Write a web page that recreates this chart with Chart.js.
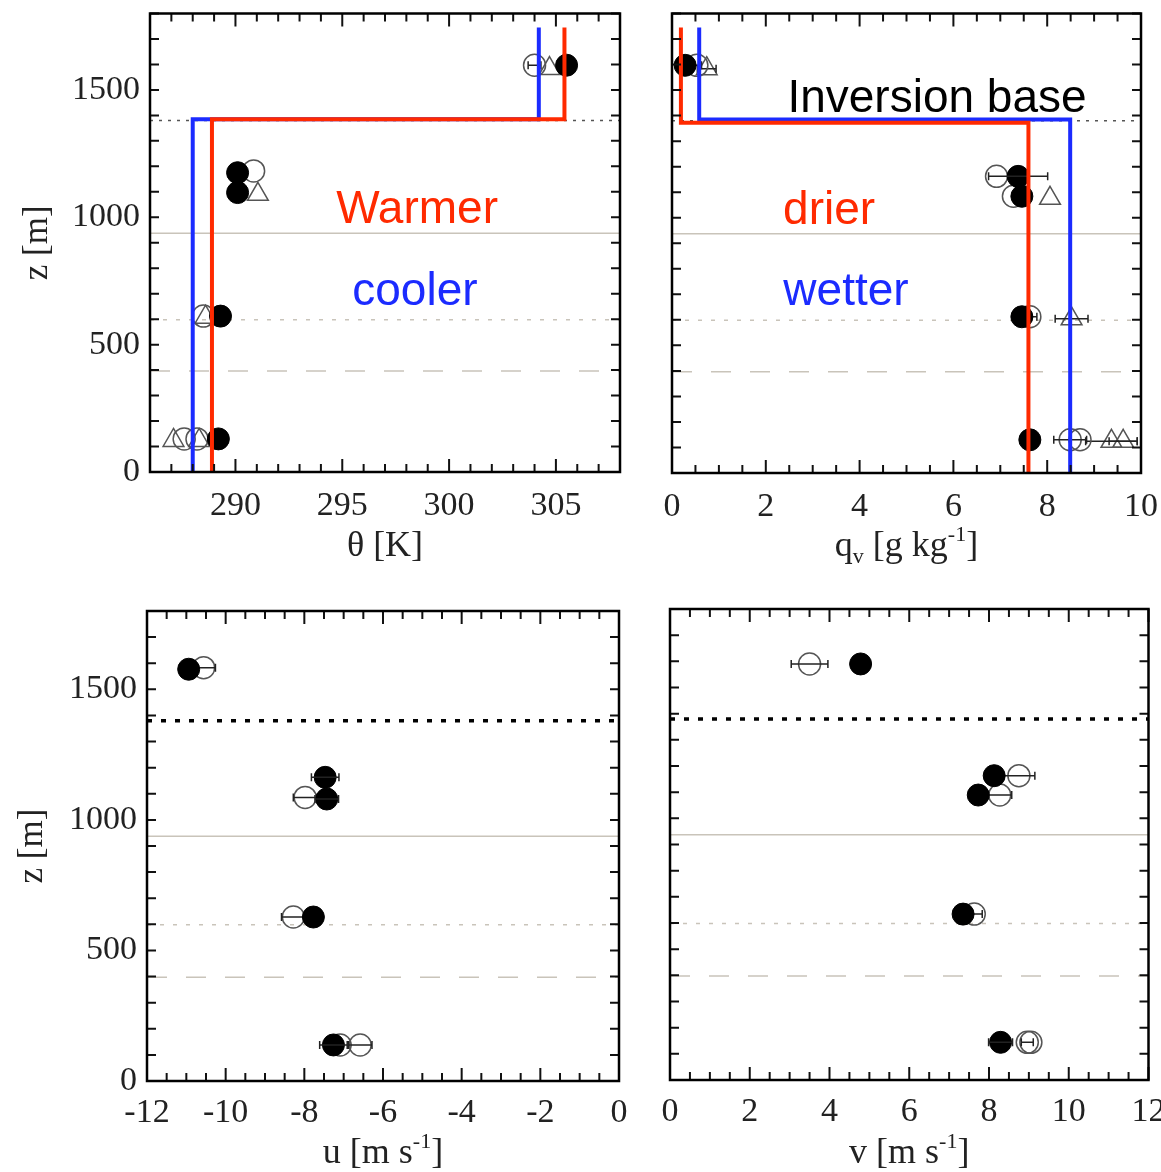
<!DOCTYPE html>
<html><head><meta charset="utf-8">
<script src="https://cdn.jsdelivr.net/npm/chart.js@4.4.1/dist/chart.umd.min.js"></script>
<style>
html,body{margin:0;padding:0;background:#fff;width:1161px;height:1172px;overflow:hidden}
canvas{position:absolute;display:block}
</style></head><body>
<canvas id="cTL" width="640" height="590" style="left:0;top:0"></canvas>
<canvas id="cTR" width="521" height="590" style="left:640px;top:0"></canvas>
<canvas id="cBL" width="640" height="582" style="left:0;top:590px"></canvas>
<canvas id="cBR" width="521" height="582" style="left:640px;top:590px"></canvas>
<script>
// ---------- reference heights (m) ----------
const zInversion = 1380;
const zCloudLine = 937;
const zDottedLine = 598;
const zDashedLine = 397;
const zProfileTop = 1745;
const zRange = [0, 1800];

// ---------- theta panel ----------
const thetaRange = [286, 308];
const thetaFilledZ = [130, 612, 1097, 1175, 1597];
const thetaFilled  = [289.2, 289.3, 290.1, 290.1, 305.5];
const thetaOpenZ   = [130, 130, 612, 1182, 1597];
const thetaOpen    = [287.6, 288.2, 288.5, 290.85, 304.0];
const thetaOpenErr = [0, 0, 0, 0, 0.3];
const thetaTriZ    = [124, 124, 608, 1090, 1584];
const thetaTri     = [287.1, 288.3, 288.6, 291.05, 304.7];
const thetaWarmer  = {bl: 288.9, ft: 305.4, zi: 1385};
const thetaCooler  = {bl: 288.0, ft: 304.2, zi: 1385};

// ---------- qv panel ----------
const qRange = [0, 10];
const qFilledZ   = [130, 612, 1084, 1162, 1597];
const qFilled    = [7.63, 7.46, 7.46, 7.38, 0.28];
const qFilledErr = [0, 0, 0, 0.63, 0];
const qOpenZ     = [130, 130, 612, 1084, 1162, 1597];
const qOpen      = [8.49, 8.7, 7.63, 7.28, 6.92, 0.53];
const qOpenErr   = [0.35, 0, 0.15, 0, 0, 0.1];
const qTriZ      = [124, 124, 604, 1076, 1584];
const qTri       = [9.37, 9.62, 8.52, 8.06, 0.74];
const qTriErr    = [0.55, 0.3, 0.35, 0, 0.2];
const qDrier     = {bl: 7.6, ft: 0.19, zi: 1372};
const qWetter    = {bl: 8.49, ft: 0.58, zi: 1385};

// ---------- u panel ----------
const uRange = [-12, 0];
const uFilledZ   = [138, 628, 1080, 1163, 1577];
const uFilled    = [-7.26, -7.77, -7.43, -7.47, -10.94];
const uFilledErr = [0.35, 0, 0.3, 0.35, 0];
const uOpenZ     = [138, 138, 628, 1086, 1583];
const uOpen      = [-7.09, -6.58, -8.28, -7.98, -10.56];
const uOpenErr   = [0, 0.3, 0.3, 0.3, 0.3];

// ---------- v panel ----------
const vRange = [0, 12];
const vFilledZ   = [144, 634, 1089, 1163, 1590];
const vFilled    = [8.29, 7.35, 7.73, 8.13, 4.78];
const vFilledErr = [0.3, 0, 0, 0, 0];
const vOpenZ     = [144, 144, 634, 1089, 1163, 1590];
const vOpen      = [8.96, 9.05, 7.63, 8.27, 8.75, 3.5];
const vOpenErr   = [0.15, 0, 0.2, 0.3, 0.4, 0.46];

// ---------- tick settings ----------
const zTickStep = 100, zMajor = 500;
const thetaTickStep = 1, thetaMajor = 5;
const qTickStep = 0.5, qMajor = 2;
const uTickStep = 0.5, uMajor = 2;
const vTickStep = 0.5, vMajor = 2;

// ---------- labels ----------
const thetaTitle = [{t:'θ [K]'}];
const qTitle = [{t:'q'},{t:'v',s:'sub'},{t:' [g kg'},{t:'-1',s:'sup'},{t:']'}];
const uTitle = [{t:'u [m s'},{t:'-1',s:'sup'},{t:']'}];
const vTitle = [{t:'v [m s'},{t:'-1',s:'sup'},{t:']'}];
const zTitle = [{t:'z [m]'}];

const RED = '#ff2a00', BLUE = '#1b2bff';
const thetaNotes = [{t:'Warmer', x:298.5, z:1027, c:RED}, {t:'cooler', x:298.4, z:706, c:BLUE}];
const qNotes = [{t:'Inversion base', x:5.65, z:1463, c:'#000'}, {t:'drier', x:3.35, z:1027, c:RED}, {t:'wetter', x:3.71, z:706, c:BLUE}];

// ================================================================
const SERIF = "'Liberation Serif','Times New Roman',serif";
const SANS = "'Liberation Sans',Arial,sans-serif";
const GREYLINE = '#c9c4ba';

function pts(xs, zs){ return xs.map((x,i)=>({x:x, y:zs[i]})); }
function stepPts(p){ return [{x:p.bl,y:zRange[0]},{x:p.bl,y:p.zi},{x:p.ft,y:p.zi},{x:p.ft,y:zProfileTop}]; }
function hline(z, r){ return [{x:r[0],y:z},{x:r[1],y:z}]; }
function lineDS(data, color, width, dash, order){
  return {data, showLine:true, borderColor:color, borderWidth:width, borderDash:dash||[], pointRadius:0, pointHoverRadius:0, fill:false, order, borderCapStyle:'butt'};
}
function markDS(data, kind, errX, order){
  const filled = kind==='filled';
  return {data, showLine:false, errX, order,
    pointStyle: kind==='tri' ? 'triangle' : 'circle',
    pointRadius: kind==='tri' ? 12 : 11,
    pointHoverRadius: kind==='tri' ? 12 : 11,
    backgroundColor: filled ? '#000' : 'rgba(0,0,0,0)',
    borderColor: filled ? '#000' : '#555',
    pointBorderWidth: filled ? 1 : 1.5, borderWidth: filled?1:1.5};
}
function refLines(r, top){
  return [
    lineDS(hline(zInversion, r), top ? '#555' : '#000', top ? 1.5 : 3.5, top ? [3,6] : [5,9], 20),
    lineDS(hline(zCloudLine, r), GREYLINE, 1.5, [], 21),
    lineDS(hline(zDottedLine, r), GREYLINE, 1.5, [4,9], 22),
    lineDS(hline(zDashedLine, r), GREYLINE, 1.5, [20,19], 23)
  ];
}
function tickVals(r, step){ const a=[]; const n=Math.round((r[1]-r[0])/step); for(let i=0;i<=n;i++) a.push(+(r[0]+i*step).toFixed(6)); return a; }
function isMajor(v, m){ return Math.abs(v/m - Math.round(v/m)) < 1e-6; }

function drawRich(ctx, segs, x, y, size, rotate){
  const base = size+'px '+SERIF, small = Math.round(size*0.6)+'px '+SERIF;
  let w = 0;
  segs.forEach(s=>{ ctx.font = s.s ? small : base; s.w = ctx.measureText(s.t).width; w += s.w; });
  ctx.save(); ctx.translate(x,y); if(rotate) ctx.rotate(-Math.PI/2);
  ctx.textAlign='left'; ctx.textBaseline='alphabetic'; ctx.fillStyle='#222';
  let cx = -w/2;
  segs.forEach(s=>{ ctx.font = s.s ? small : base; const dy = s.s==='sub' ? size*0.2 : (s.s==='sup' ? -size*0.4 : 0); ctx.fillText(s.t, cx, size*0.3+dy); cx += s.w; });
  ctx.restore();
}

const panelPlugin = {
  id: 'panel',
  afterDatasetDraw(chart, args){
    const ds = chart.data.datasets[args.index];
    if(!ds.errX) return;
    const xs = chart.scales.x, ctx = chart.ctx, meta = args.meta;
    ctx.save(); ctx.strokeStyle = '#222'; ctx.lineWidth = 1.5;
    ds.errX.forEach((e,i)=>{
      if(!e) return;
      const d = ds.data[i], py = meta.data[i].y;
      const x0 = xs.getPixelForValue(d.x - e), x1 = xs.getPixelForValue(d.x + e);
      ctx.beginPath(); ctx.moveTo(x0,py); ctx.lineTo(x1,py);
      ctx.moveTo(x0,py-4); ctx.lineTo(x0,py+4); ctx.moveTo(x1,py-4); ctx.lineTo(x1,py+4);
      ctx.stroke();
    });
    ctx.restore();
  },
  afterDraw(chart){
    const o = chart.options.plugins.panel, ctx = chart.ctx, a = chart.chartArea;
    const xs = chart.scales.x, ys = chart.scales.y;
    ctx.save();
    (o.notes||[]).forEach(n=>{
      ctx.font = '46px '+SANS; ctx.fillStyle = n.c; ctx.textAlign='center'; ctx.textBaseline='middle';
      ctx.fillText(n.t, xs.getPixelForValue(n.x), ys.getPixelForValue(n.z));
    });
    ctx.strokeStyle = '#111'; ctx.lineWidth = 2;
    ctx.beginPath();
    xs.ticks.forEach(t=>{
      const p = xs.getPixelForValue(t.value); const L = isMajor(t.value, o.xMajor) ? 13 : 8;
      ctx.moveTo(p, a.bottom); ctx.lineTo(p, a.bottom-L);
      ctx.moveTo(p, a.top); ctx.lineTo(p, a.top+L);
    });
    ys.ticks.forEach(t=>{
      const p = ys.getPixelForValue(t.value); const L = 9;
      ctx.moveTo(a.left, p); ctx.lineTo(a.left+L, p);
      ctx.moveTo(a.right, p); ctx.lineTo(a.right-L, p);
    });
    ctx.stroke();
    ctx.lineWidth = 2.5; ctx.strokeStyle = '#000';
    ctx.strokeRect(a.left, a.top, a.right-a.left, a.bottom-a.top);
    drawRich(ctx, o.xTitle, (a.left+a.right)/2, o.xTitleY, 36, false);
    if(o.yTitle) drawRich(ctx, o.yTitle, o.yTitleX, (a.top+a.bottom)/2, 35, true);
    ctx.restore();
  }
};

function makeChart(id, c){
  const tickFont = {family: SERIF, size: 34};
  return new Chart(document.getElementById(id), {
    type: 'scatter',
    data: {datasets: c.datasets},
    plugins: [panelPlugin],
    options: {
      responsive:false, animation:false, devicePixelRatio:1, events:[],
      layout: {padding: {top:c.padTop, right:c.padRight, left:0, bottom:0}},
      plugins: {legend:{display:false}, tooltip:{enabled:false},
        panel: {notes:c.notes, xMajor:c.xMajor, xTitle:c.xTitle, xTitleY:c.xTitleY, yTitle:c.yTitle, yTitleX:c.yTitleX}},
      scales: {
        x: {type:'linear', min:c.xRange[0], max:c.xRange[1],
            grid:{display:false, drawTicks:false}, border:{display:false},
            afterBuildTicks: s=>{ s.ticks = tickVals(c.xRange, c.xStep).map(v=>({value:v})); },
            afterFit: s=>{ s.height = c.xAxisH; s.paddingLeft = 0; s.paddingRight = 0; },
            ticks:{autoSkip:false, maxRotation:0, minRotation:0, padding:c.xPad, color:'#222', font:tickFont,
              callback: v => isMajor(v, c.xMajor) ? String(Math.round(v)) : ''}},
        y: {type:'linear', min:zRange[0], max:zRange[1],
            grid:{display:false, drawTicks:false}, border:{display:false},
            afterBuildTicks: s=>{ s.ticks = tickVals(zRange, zTickStep).map(v=>({value:v})); },
            afterFit: s=>{ s.width = c.yAxisW; s.paddingTop = 0; s.paddingBottom = 0; },
            ticks:{autoSkip:false, padding:10, color:'#222', font:tickFont,
              callback: v => (c.yLabels && isMajor(v, zMajor)) ? String(v) : ''}}
      }
    }
  });
}

makeChart('cTL', {
  padTop:9, padRight:20, yAxisW:150, xAxisH:118, xPad:14, yLabels:true,
  xRange:thetaRange, xStep:thetaTickStep, xMajor:thetaMajor,
  xTitle:thetaTitle, xTitleY:545, yTitle:zTitle, yTitleX:36, notes:thetaNotes,
  datasets: [
    lineDS(stepPts(thetaWarmer), RED, 4, [], 0),
    lineDS(stepPts(thetaCooler), BLUE, 4, [], 1),
    markDS(pts(thetaFilled, thetaFilledZ), 'filled', null, 2),
    markDS(pts(thetaOpen, thetaOpenZ), 'open', thetaOpenErr, 3),
    markDS(pts(thetaTri, thetaTriZ), 'tri', null, 4),
    ...refLines(thetaRange, true)
  ]
});

makeChart('cTR', {
  padTop:9, padRight:20, yAxisW:32, xAxisH:117, xPad:14, yLabels:false,
  xRange:qRange, xStep:qTickStep, xMajor:qMajor,
  xTitle:qTitle, xTitleY:545, yTitle:null, notes:qNotes,
  datasets: [
    lineDS(stepPts(qDrier), RED, 4, [], 0),
    lineDS(stepPts(qWetter), BLUE, 4, [], 1),
    markDS(pts(qFilled, qFilledZ), 'filled', qFilledErr, 2),
    markDS(pts(qOpen, qOpenZ), 'open', qOpenErr, 3),
    markDS(pts(qTri, qTriZ), 'tri', qTriErr, 4),
    ...refLines(qRange, true)
  ]
});

makeChart('cBL', {
  padTop:21, padRight:21, yAxisW:147, xAxisH:91, xPad:12, yLabels:true,
  xRange:uRange, xStep:uTickStep, xMajor:uMajor,
  xTitle:uTitle, xTitleY:562, yTitle:zTitle, yTitleX:31, notes:[],
  datasets: [
    markDS(pts(uFilled, uFilledZ), 'filled', uFilledErr, 2),
    markDS(pts(uOpen, uOpenZ), 'open', uOpenErr, 3),
    ...refLines(uRange, false)
  ]
});

makeChart('cBR', {
  padTop:19, padRight:11, yAxisW:30, xAxisH:92, xPad:12, yLabels:false,
  xRange:vRange, xStep:vTickStep, xMajor:vMajor,
  xTitle:vTitle, xTitleY:562, yTitle:null, notes:[],
  datasets: [
    markDS(pts(vFilled, vFilledZ), 'filled', vFilledErr, 2),
    markDS(pts(vOpen, vOpenZ), 'open', vOpenErr, 3),
    ...refLines(vRange, false)
  ]
});
</script>
</body></html>
